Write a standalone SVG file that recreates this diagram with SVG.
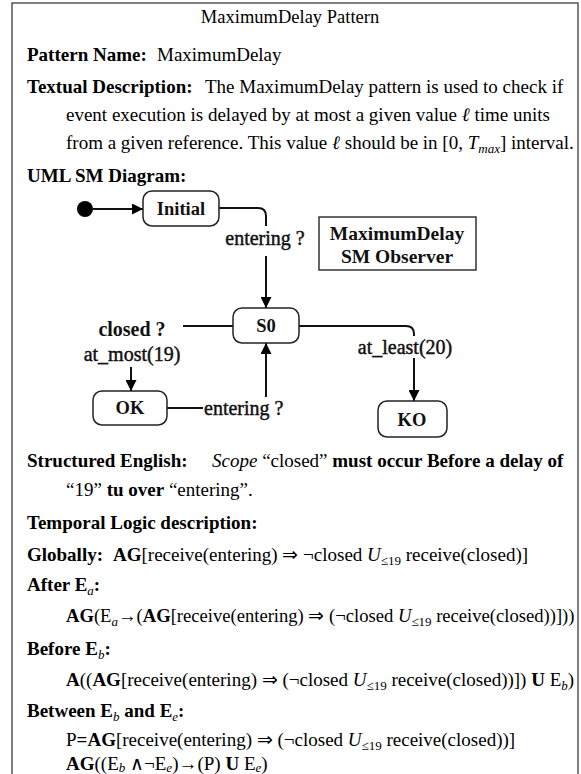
<svg xmlns="http://www.w3.org/2000/svg" width="581" height="774" viewBox="0 0 581 774">
<defs>
<marker id="ah" viewBox="0 0 10 10" refX="10" refY="5" markerWidth="11" markerHeight="11" markerUnits="userSpaceOnUse" orient="auto"><path d="M0,0 L10,5 L0,10 z" fill="#000"/></marker>
</defs>
<style>
.t{font-family:"Liberation Serif","Times New Roman",serif;font-size:19px;fill:#000}
.b{font-weight:bold}
.i{font-style:italic}
.s{font-size:13px}
.d{font-family:"Liberation Serif","Times New Roman",serif;font-size:20px;fill:#111}
.m{stroke:#111;stroke-width:0.45}
.st{fill:#fff;stroke:#222;stroke-width:1.5}
.ln{fill:none;stroke:#111;stroke-width:2}
</style>
<rect x="0" y="0" width="581" height="774" fill="#fff"/>
<rect x="12" y="3" width="566" height="790" fill="none" stroke="#555" stroke-width="1.5"/>

<g id="text-header">
<text class="t" x="290" y="23" text-anchor="middle" style="font-size:18.5px">MaximumDelay Pattern</text>
<text class="t" x="27" y="61"><tspan class="b">Pattern Name:</tspan><tspan x="157">MaximumDelay</tspan></text>
<text class="t" x="27" y="93"><tspan class="b">Textual Description:</tspan><tspan x="205">The MaximumDelay pattern is used to check if</tspan></text>
<text class="t" x="66" y="121">event execution is delayed by at most a given value <tspan class="i">ℓ</tspan> time units</text>
<text class="t" x="66" y="149">from a given reference. This value <tspan class="i">ℓ</tspan> should be in [0, <tspan class="i">T</tspan><tspan class="i s" dy="4">max</tspan><tspan dy="-4">] interval.</tspan></text>
<text class="t b" x="27" y="182">UML SM Diagram:</text>
</g>

<g id="connectors">
<line class="ln" x1="93" y1="209" x2="143" y2="209" marker-end="url(#ah)"/>
<path class="ln" d="M219,208 H258 Q266,208 266,216 V226"/>
<line class="ln" x1="266" y1="256" x2="266" y2="308" marker-end="url(#ah)"/>
<line class="ln" x1="233" y1="326" x2="183" y2="326"/>
<line class="ln" x1="131" y1="367" x2="131" y2="391" marker-end="url(#ah)"/>
<line class="ln" x1="167" y1="408" x2="203" y2="408"/>
<line class="ln" x1="266" y1="397" x2="266" y2="343" marker-end="url(#ah)"/>
<path class="ln" d="M299,326 H406 Q414,326 414,334 V336"/>
<line class="ln" x1="414" y1="358" x2="414" y2="401" marker-end="url(#ah)"/>
<text class="d m" x="265" y="245" text-anchor="middle">entering ?</text>
<text class="d b" x="132" y="336" text-anchor="middle">closed ?</text>
<text class="d m" x="132" y="361" text-anchor="middle">at_most(19)</text>
<text class="d m" x="204" y="415">entering ?</text>
<text class="d m" x="405" y="354" text-anchor="middle">at_least(20)</text>
</g>

<g id="start"><circle cx="85" cy="209" r="8" fill="#000"/></g>
<g id="initial"><rect class="st" x="143" y="191" width="76" height="35" rx="9"/><text class="d b" x="181" y="215" text-anchor="middle" style="font-size:18.5px">Initial</text></g>
<g id="observer"><rect x="319" y="217" width="157" height="53" fill="#fff" stroke="#333" stroke-width="1.5"/><text class="d b" x="397" y="240" text-anchor="middle" style="font-size:19.5px">MaximumDelay</text><text class="d b" x="397" y="263" text-anchor="middle" style="font-size:19.5px">SM Observer</text></g>
<g id="s0"><rect class="st" x="233" y="308" width="66" height="35" rx="9"/><text class="d b" x="266" y="332" text-anchor="middle" style="font-size:18.5px">S0</text></g>
<g id="ok"><rect class="st" x="93" y="391" width="74" height="34" rx="9"/><text class="d b" x="130" y="414" text-anchor="middle" style="font-size:18.5px">OK</text></g>
<g id="ko"><rect class="st" x="378" y="401" width="69" height="36" rx="9"/><text class="d b" x="412" y="426" text-anchor="middle" style="font-size:18.5px">KO</text></g>

<g id="text-body">
<text class="t" x="27" y="467"><tspan class="b">Structured English:</tspan><tspan x="212" class="i">Scope</tspan> “closed” <tspan class="b">must occur Before a delay of</tspan></text>
<text class="t" x="66" y="496">“19” <tspan class="b">tu over</tspan> “entering”.</text>
<text class="t b" x="27" y="529">Temporal Logic description:</text>
<text class="t" x="27" y="561"><tspan class="b">Globally:</tspan><tspan x="113" class="b">AG</tspan>[receive(entering) ⇒ ¬closed <tspan class="i">U</tspan><tspan class="s" dy="4">≤19</tspan><tspan dy="-4"> receive(closed)]</tspan></text>
<text class="t" x="27" y="591"><tspan class="b">After E</tspan><tspan class="i s" dy="4">a</tspan><tspan class="b" dy="-4">:</tspan></text>
<text class="t" x="66" y="622" style="font-size:18.6px"><tspan class="b">AG</tspan>(E<tspan class="i s" dy="4">a</tspan><tspan dy="-4">→(</tspan><tspan class="b">AG</tspan>[receive(entering) ⇒ (¬closed <tspan class="i">U</tspan><tspan class="s" dy="4">≤19</tspan><tspan dy="-4"> receive(closed))]))</tspan></text>
<text class="t" x="27" y="655"><tspan class="b">Before E</tspan><tspan class="i s" dy="4">b</tspan><tspan class="b" dy="-4">:</tspan></text>
<text class="t" x="66" y="686"><tspan class="b">A</tspan>((<tspan class="b">AG</tspan>[receive(entering) ⇒ (¬closed <tspan class="i">U</tspan><tspan class="s" dy="4">≤19</tspan><tspan dy="-4"> receive(closed))]) </tspan><tspan class="b">U</tspan> E<tspan class="i s" dy="4">b</tspan><tspan dy="-4">)</tspan></text>
<text class="t" x="27" y="717"><tspan class="b">Between E</tspan><tspan class="i s" dy="4">b</tspan><tspan class="b" dy="-4"> and E</tspan><tspan class="i s" dy="4">e</tspan><tspan class="b" dy="-4">:</tspan></text>
<text class="t" x="66" y="746">P<tspan class="b">=AG</tspan>[receive(entering) ⇒ (¬closed <tspan class="i">U</tspan><tspan class="s" dy="4">≤19</tspan><tspan dy="-4"> receive(closed))]</tspan></text>
<text class="t" x="66" y="770"><tspan class="b">AG</tspan>((E<tspan class="i s" dy="2">b</tspan><tspan dy="-2"> ∧¬E</tspan><tspan class="i s" dy="2">e</tspan><tspan dy="-2">)→(P) </tspan><tspan class="b">U</tspan> E<tspan class="i s" dy="2">e</tspan><tspan dy="-2">)</tspan></text>
</g>
</svg>
